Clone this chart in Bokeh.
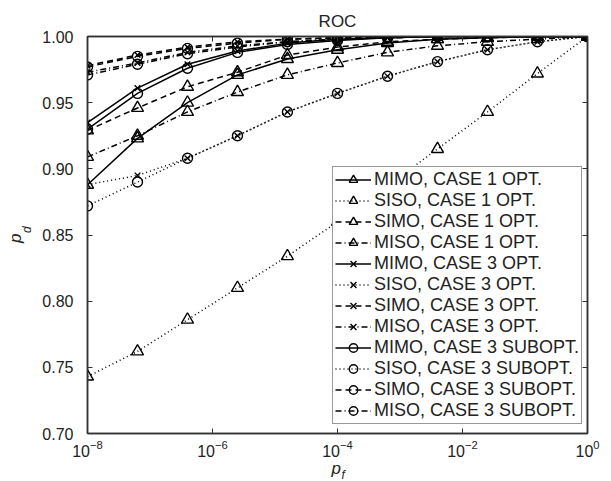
from bokeh.plotting import figure
from bokeh.models import (LogAxis, LinearAxis, FixedTicker, Label, Legend, LegendItem,
                          Range1d, LogTickFormatter, NumeralTickFormatter)
from bokeh.embed import file_html
from bokeh.resources import INLINE

# ---------------- data ----------------
pf = [1e-8, 6.31e-8, 3.98e-7, 2.51e-6, 1.58e-5, 1e-4, 6.31e-4, 3.98e-3, 2.51e-2, 0.158, 1.0]

mimo_c1_opt = [0.888, 0.923, 0.950, 0.971, 0.983, 0.990, 0.995, 0.998, 0.999, 1.000, 1.000]
siso_c1_opt = [0.743, 0.762, 0.786, 0.810, 0.834, 0.860, 0.887, 0.915, 0.943, 0.972, 1.000]
simo_c1_opt = [0.929, 0.946, 0.962, 0.973, 0.986, 0.992, 0.996, 0.998, 0.999, 1.000, 1.000]
miso_c1_opt = [0.909, 0.925, 0.943, 0.958, 0.971, 0.980, 0.988, 0.993, 0.996, 0.998, 1.000]
mimo_c3_opt = [0.935, 0.961, 0.979, 0.989, 0.995, 0.998, 0.999, 1.000, 1.000, 1.000, 1.000]
siso_c3_opt = [0.888, 0.895, 0.908, 0.925, 0.943, 0.957, 0.970, 0.981, 0.990, 0.996, 1.000]
simo_c3_opt = [0.978, 0.986, 0.992, 0.996, 0.998, 0.999, 1.000, 1.000, 1.000, 1.000, 1.000]
miso_c3_opt = [0.973, 0.980, 0.988, 0.993, 0.996, 0.998, 0.999, 1.000, 1.000, 1.000, 1.000]
mimo_c3_sub = [0.930, 0.957, 0.976, 0.988, 0.994, 0.997, 0.999, 1.000, 1.000, 1.000, 1.000]
siso_c3_sub = [0.872, 0.890, 0.908, 0.925, 0.943, 0.957, 0.970, 0.981, 0.990, 0.996, 1.000]
simo_c3_sub = [0.977, 0.985, 0.991, 0.995, 0.998, 0.999, 1.000, 1.000, 1.000, 1.000, 1.000]
miso_c3_sub = [0.971, 0.979, 0.987, 0.992, 0.996, 0.998, 0.999, 1.000, 1.000, 1.000, 1.000]

labels = ["MIMO, CASE 1 OPT.", "SISO, CASE 1 OPT.", "SIMO, CASE 1 OPT.", "MISO, CASE 1 OPT.",
          "MIMO, CASE 3 OPT.", "SISO, CASE 3 OPT.", "SIMO, CASE 3 OPT.", "MISO, CASE 3 OPT.",
          "MIMO, CASE 3 SUBOPT.", "SISO, CASE 3 SUBOPT.", "SIMO, CASE 3 SUBOPT.", "MISO, CASE 3 SUBOPT."]
series = [mimo_c1_opt, siso_c1_opt, simo_c1_opt, miso_c1_opt,
          mimo_c3_opt, siso_c3_opt, simo_c3_opt, miso_c3_opt,
          mimo_c3_sub, siso_c3_sub, simo_c3_sub, miso_c3_sub]

x_ticks = [1e-8, 1e-6, 1e-4, 1e-2, 1.0]
y_ticks = [0.70, 0.75, 0.80, 0.85, 0.90, 0.95, 1.00]

# ---------------- styles ----------------
dashes = ["solid", "1 3", "6 4", "6 3 1 3"]
markers = ["triangle"] * 4 + ["x"] * 4 + ["circle"] * 4
msizes = {"triangle": 12, "x": 8, "circle": 10}
FONT = "Liberation Sans"
INK = "#222222"

p = figure(x_axis_type="log", frame_width=500, frame_height=397,
           min_border_left=87, min_border_right=24, min_border_top=36, min_border_bottom=48,
           output_backend="svg", toolbar_location=None,
           x_range=Range1d(1e-8, 1.0), y_range=Range1d(0.70, 1.00))
p.title.text = "ROC"
p.title.align = "center"
p.title.text_font = FONT
p.title.text_font_size = "17px"
p.title.text_font_style = "normal"
p.title.text_color = INK
p.title.offset = 0
p.title.standoff = 12

p.grid.visible = False
p.outline_line_color = "#333333"
p.outline_line_width = 1.5
p.background_fill_color = "white"
p.border_fill_color = "white"

items = []
for i, (lab, ys) in enumerate(zip(labels, series)):
    dash = dashes[i % 4]
    mk = markers[i]
    l = p.line(pf, ys, line_color="black", line_width=1.5, line_dash=dash)
    s = p.scatter(pf, ys, marker=mk, size=msizes[mk], line_color="black",
                  line_width=1.4, fill_color=None)
    items.append(LegendItem(label=lab, renderers=[l, s]))

legend = Legend(items=items, location=(245, 9), orientation="vertical")
legend.label_text_font = FONT
legend.label_text_font_size = "18px"
legend.label_text_color = INK
legend.label_height = 21
legend.glyph_height = 21
legend.glyph_width = 36
legend.label_standoff = 3
legend.spacing = 0
legend.padding = 2
legend.margin = 0
legend.border_line_color = "#333333"
legend.border_line_width = 1.5
legend.background_fill_alpha = 1.0
p.add_layout(legend, "center")

# axes
for ax in p.xaxis:
    ax.ticker = FixedTicker(ticks=x_ticks)
    ax.formatter = LogTickFormatter()
for ax in p.yaxis:
    ax.ticker = FixedTicker(ticks=y_ticks)
    ax.formatter = NumeralTickFormatter(format="0.00")

for ax in list(p.xaxis) + list(p.yaxis):
    ax.major_tick_in = 5
    ax.major_tick_out = 0
    ax.minor_tick_line_color = None
    ax.axis_line_color = "#333333"
    ax.axis_line_width = 1.5
    ax.major_tick_line_color = "#333333"
    ax.major_label_text_font = FONT
    ax.major_label_text_font_size = "16px"
    ax.major_label_text_color = INK
p.yaxis.major_label_standoff = 14
p.xaxis.major_label_standoff = 6

top = LogAxis(ticker=FixedTicker(ticks=x_ticks), major_label_text_font_size="0px",
              major_tick_in=5, major_tick_out=0, minor_tick_line_color=None,
              axis_line_color="#333333", axis_line_width=1.5, major_tick_line_color="#333333")
right = LinearAxis(ticker=FixedTicker(ticks=y_ticks), major_label_text_font_size="0px",
                   major_tick_in=5, major_tick_out=0, minor_tick_line_color=None,
                   axis_line_color="#333333", axis_line_width=1.5, major_tick_line_color="#333333")
top.major_label_text_color = None
right.major_label_text_color = None
p.add_layout(top, "above")
p.add_layout(right, "right")

# axis titles p_f and p_d: labels placed in the side panels (not clipped by the frame)
lab_kw = dict(text_font=FONT, text_font_style="italic", text_color=INK)
p.add_layout(Label(x=1e-4, y=0.70, x_offset=-6, y_offset=-44, text="p",
                   text_font_size="17px", **lab_kw), "below")
p.add_layout(Label(x=1e-4, y=0.70, x_offset=4, y_offset=-48, text="f",
                   text_font_size="12px", **lab_kw), "below")
p.add_layout(Label(x=1e-8, y=0.85, x_offset=-63, y_offset=-8, text="p", angle=1.5708,
                   text_font_size="17px", **lab_kw), "left")
p.add_layout(Label(x=1e-8, y=0.85, x_offset=-54, y_offset=2, text="d", angle=1.5708,
                   text_font_size="12px", **lab_kw), "left")

open("out.html", "w").write(file_html(p, INLINE))
